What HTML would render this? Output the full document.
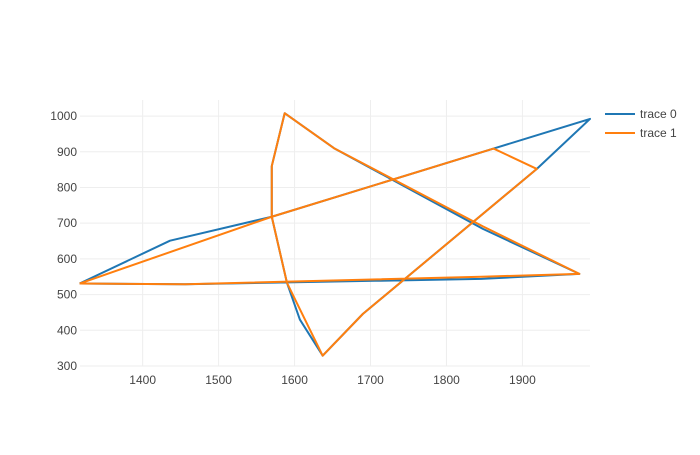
<!DOCTYPE html>
<html><head><meta charset="utf-8"><style>
body{margin:0;background:#fff}
text{font-family:"Liberation Sans",Arial,sans-serif;font-size:12px;fill:#444}
</style></head><body>
<svg id="chart" width="700" height="450" xmlns="http://www.w3.org/2000/svg">
<g id="grid"></g>
<g id="traces"></g>
<g id="xticks"></g>
<g id="yticks"></g>
<g>
<g><line x1="605" y1="114" x2="635" y2="114" stroke="#1f77b4" stroke-width="2"/><text x="640" y="118">trace 0</text></g>
<g><line x1="605" y1="133" x2="635" y2="133" stroke="#ff7f0e" stroke-width="2"/><text x="640" y="137">trace 1</text></g>
</g>
</svg>
<script>
const xTicks=[1400,1500,1600,1700,1800,1900];
const yTicks=[300,400,500,600,700,800,900,1000];
const trace0X=[1317,1436,1570,1862,1989,1919,1690,1637,1607,1590,1570,1570,1587,1652,1848,1975,1846,1456,1317];
const trace0Y=[531,651,718,909,992,852,446,329,430,533,718,860,1008,910,684,558,544,529,531];
const trace1X=[1317,1570,1862,1919,1690,1637,1590,1570,1570,1587,1652,1848,1975,1846,1456,1317];
const trace1Y=[531,718,909,852,446,329,533,718,860,1008,910,691,558,550,529,531];
const X0=80,X1=590,Y0=100,Y1=366;
const xMin=1317.5,xMax=1989,yMin=300,yMax=1045;
const sx=v=>X0+(v-xMin)/(xMax-xMin)*(X1-X0);
const sy=v=>Y1-(v-yMin)/(yMax-yMin)*(Y1-Y0);
const NS='http://www.w3.org/2000/svg';
const g=document.getElementById('grid'),xt=document.getElementById('xticks'),yt=document.getElementById('yticks'),tr=document.getElementById('traces');
xTicks.forEach(t=>{const l=document.createElementNS(NS,'line');


l.setAttribute('x1',sx(t));l.setAttribute('x2',sx(t));l.setAttribute('y1',Y0);l.setAttribute('y2',Y1);l.setAttribute('stroke','#eee');g.appendChild(l);
const tx=document.createElementNS(NS,'text');


tx.setAttribute('x',sx(t));tx.setAttribute('y',384);tx.setAttribute('text-anchor','middle');tx.textContent=t;xt.appendChild(tx);});
yTicks.forEach(t=>{const l=document.createElementNS(NS,'line');


l.setAttribute('x1',X0);l.setAttribute('x2',X1);l.setAttribute('y1',sy(t));l.setAttribute('y2',sy(t));l.setAttribute('stroke','#eee');g.appendChild(l);
const tx=document.createElementNS(NS,'text');


tx.setAttribute('x',77);tx.setAttribute('y',sy(t)+4);tx.setAttribute('text-anchor','end');tx.textContent=t;yt.appendChild(tx);});
function draw(xs,ys,c,name){const p=document.createElementNS(NS,'polyline');


p.setAttribute('points',xs.map((x,i)=>sx(x)+','+sy(ys[i])).join(' '));p.setAttribute('fill','none');p.setAttribute('stroke',c);p.setAttribute('stroke-width','2');p.setAttribute('stroke-linejoin','round');tr.appendChild(p);}
draw(trace0X,trace0Y,'#1f77b4','trace-0-line');
draw(trace1X,trace1Y,'#ff7f0e','trace-1-line');
</script>
</body></html>
